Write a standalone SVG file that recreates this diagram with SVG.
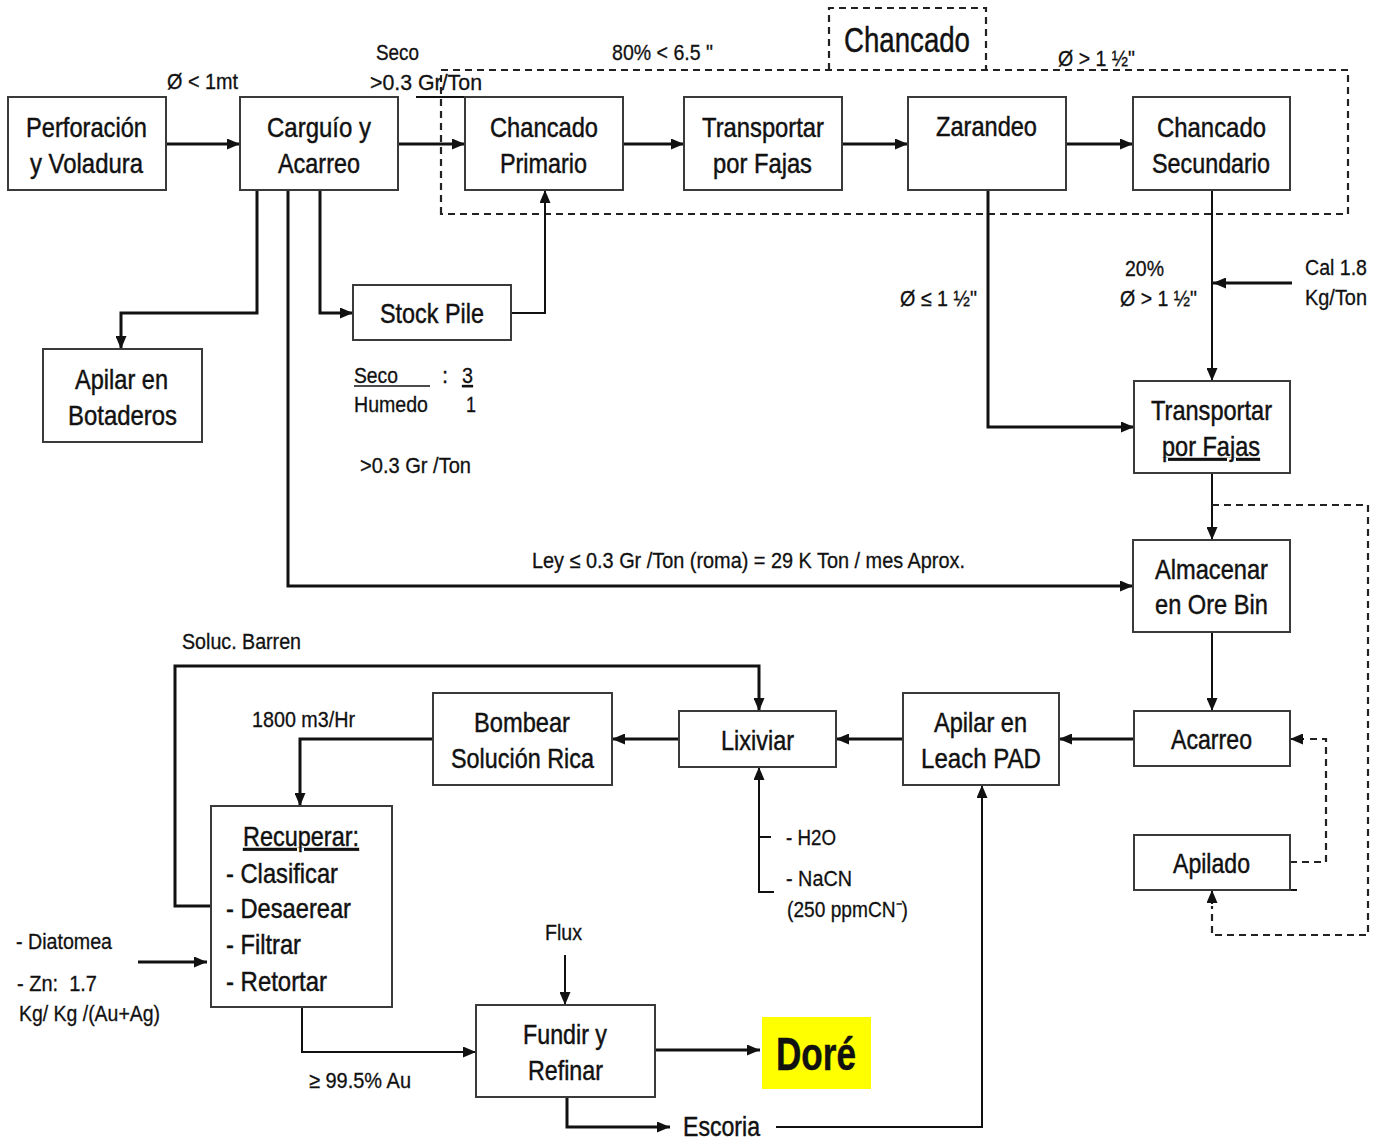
<svg xmlns="http://www.w3.org/2000/svg" width="1383" height="1142" viewBox="0 0 1383 1142">
  <style>
    text { font-family: "Liberation Sans", Arial, sans-serif; fill: #111; stroke: #111; stroke-width: 0.45; }
    .box { fill: #fff; stroke: #3a3a3a; stroke-width: 2; }
    .lbl { font-size: 28px; }
    .sm { font-size: 22px; stroke-width: 0.3; }
    .conn { fill: none; stroke: #111; stroke-width: 3; }
    .thin { fill: none; stroke: #111; stroke-width: 2; }
    .dash { fill: none; stroke: #222; stroke-width: 2.2; stroke-dasharray: 7 5; }
    .u { text-decoration: underline; }
  </style>
  <defs>
    <marker id="arr" markerUnits="userSpaceOnUse" markerWidth="13" markerHeight="11" refX="13" refY="5.5" orient="auto">
      <path d="M0,0 L13,5.5 L0,11 z" fill="#111"/>
    </marker>
  </defs>
  <rect width="1383" height="1142" fill="#fff"/>

  <!-- crushing area frame and its title box -->
  <g id="chancado-area">
    <path class="dash" d="M441,214 L441,70 L1348,70 L1348,214 Z"/>
    <path class="dash" d="M829,70 L829,8 L986,8 L986,70"/>
    <text x="844" y="52" font-size="35" textLength="126" lengthAdjust="spacingAndGlyphs">Chancado</text>
  </g>

  <!-- connectors -->
  <g id="connectors">
    <line class="conn" x1="166" y1="144" x2="240" y2="144" marker-end="url(#arr)"/>
    <line class="conn" x1="398" y1="144" x2="465" y2="144" marker-end="url(#arr)"/>
    <line class="thin" x1="416" y1="97" x2="465" y2="97"/>
    <line class="conn" x1="623" y1="144" x2="684" y2="144" marker-end="url(#arr)"/>
    <line class="conn" x1="842" y1="144" x2="908" y2="144" marker-end="url(#arr)"/>
    <line class="conn" x1="1066" y1="144" x2="1133" y2="144" marker-end="url(#arr)"/>

    <path class="conn" d="M257,190 L257,313 L121,313 L121,349" marker-end="url(#arr)"/>
    <path class="conn" d="M320,190 L320,313 L353,313" marker-end="url(#arr)"/>
    <path class="conn" d="M288,190 L288,586 L1133,586" marker-end="url(#arr)"/>
    <path class="thin" d="M511,313 L545,313 L545,190" marker-end="url(#arr)"/>

    <path class="conn" d="M988,190 L988,427 L1134,427" marker-end="url(#arr)"/>
    <path class="thin" d="M1212,190 L1212,381" marker-end="url(#arr)"/>
    <line class="conn" x1="1292" y1="283" x2="1213" y2="283" marker-end="url(#arr)"/>

    <path class="thin" d="M1212,473 L1212,540" marker-end="url(#arr)"/>
    <path class="dash" d="M1212,505 L1368,505 L1368,935 L1212,935 L1212,906"/>
    <path class="thin" d="M1212,904 L1212,890" marker-end="url(#arr)"/>
    <path class="thin" d="M1212,632 L1212,711" marker-end="url(#arr)"/>
    <path class="dash" d="M1290,862 L1326,862 L1326,739 L1305,739"/>
    <path class="thin" d="M1304,739 L1290,739" marker-end="url(#arr)"/>
    <line class="thin" x1="1290" y1="890" x2="1297" y2="890"/>

    <line class="conn" x1="1134" y1="739" x2="1059" y2="739" marker-end="url(#arr)"/>
    <line class="conn" x1="903" y1="739" x2="836" y2="739" marker-end="url(#arr)"/>
    <line class="conn" x1="679" y1="739" x2="612" y2="739" marker-end="url(#arr)"/>
    <path class="conn" d="M433,739 L300,739 L300,806" marker-end="url(#arr)"/>
    <path class="conn" d="M211,906 L175,906 L175,666 L759,666 L759,711" marker-end="url(#arr)"/>

    <path class="thin" d="M774,892 L759,892 L759,767" marker-end="url(#arr)"/>
    <line class="thin" x1="759" y1="837" x2="771" y2="837"/>

    <line class="conn" x1="138" y1="962" x2="207" y2="962" marker-end="url(#arr)"/>
    <path class="thin" d="M302,1007 L302,1052 L476,1052" marker-end="url(#arr)"/>
    <line class="thin" x1="565" y1="955" x2="565" y2="1005" marker-end="url(#arr)"/>
    <line class="conn" x1="655" y1="1050" x2="760" y2="1050" marker-end="url(#arr)"/>
    <path class="conn" d="M567,1097 L567,1127 L670,1127" marker-end="url(#arr)"/>
    <path class="thin" d="M776,1127 L982,1127 L982,785" marker-end="url(#arr)"/>
  </g>

  <!-- nodes -->
  <g id="perforacion">
    <rect class="box" x="8" y="97" width="158" height="93"/>
    <text class="lbl" x="26" y="137" textLength="121" lengthAdjust="spacingAndGlyphs">Perforación</text>
    <text class="lbl" x="30" y="173" textLength="113" lengthAdjust="spacingAndGlyphs">y Voladura</text>
  </g>
  <g id="carguio">
    <rect class="box" x="240" y="97" width="158" height="93"/>
    <text class="lbl" x="267" y="137" textLength="104" lengthAdjust="spacingAndGlyphs">Carguío y</text>
    <text class="lbl" x="278" y="173" textLength="82" lengthAdjust="spacingAndGlyphs">Acarreo</text>
  </g>
  <g id="chancado-primario">
    <rect class="box" x="465" y="97" width="158" height="93"/>
    <text class="lbl" x="490" y="137" textLength="108" lengthAdjust="spacingAndGlyphs">Chancado</text>
    <text class="lbl" x="500" y="173" textLength="87" lengthAdjust="spacingAndGlyphs">Primario</text>
  </g>
  <g id="transportar-1">
    <rect class="box" x="684" y="97" width="158" height="93"/>
    <text class="lbl" x="702" y="137" textLength="122" lengthAdjust="spacingAndGlyphs">Transportar</text>
    <text class="lbl" x="713" y="173" textLength="99" lengthAdjust="spacingAndGlyphs">por Fajas</text>
  </g>
  <g id="zarandeo">
    <rect class="box" x="908" y="97" width="158" height="93"/>
    <text class="lbl" x="936" y="136" textLength="101" lengthAdjust="spacingAndGlyphs">Zarandeo</text>
  </g>
  <g id="chancado-secundario">
    <rect class="box" x="1133" y="97" width="157" height="93"/>
    <text class="lbl" x="1157" y="137" textLength="109" lengthAdjust="spacingAndGlyphs">Chancado</text>
    <text class="lbl" x="1152" y="173" textLength="118" lengthAdjust="spacingAndGlyphs">Secundario</text>
  </g>
  <g id="stock-pile">
    <rect class="box" x="353" y="285" width="158" height="55"/>
    <text class="lbl" x="380" y="323" textLength="104" lengthAdjust="spacingAndGlyphs">Stock Pile</text>
  </g>
  <g id="botaderos">
    <rect class="box" x="43" y="349" width="159" height="93"/>
    <text class="lbl" x="75" y="389" textLength="93" lengthAdjust="spacingAndGlyphs">Apilar en</text>
    <text class="lbl" x="68" y="425" textLength="109" lengthAdjust="spacingAndGlyphs">Botaderos</text>
  </g>
  <g id="transportar-2">
    <rect class="box" x="1134" y="381" width="156" height="92"/>
    <text class="lbl" x="1151" y="420" textLength="121" lengthAdjust="spacingAndGlyphs">Transportar</text>
    <text class="lbl u" x="1162" y="456" textLength="98" lengthAdjust="spacingAndGlyphs">por Fajas</text>
  </g>
  <g id="ore-bin">
    <rect class="box" x="1133" y="540" width="157" height="92"/>
    <text class="lbl" x="1155" y="579" textLength="113" lengthAdjust="spacingAndGlyphs">Almacenar</text>
    <text class="lbl" x="1155" y="614" textLength="113" lengthAdjust="spacingAndGlyphs">en Ore Bin</text>
  </g>
  <g id="acarreo">
    <rect class="box" x="1134" y="711" width="156" height="55"/>
    <text class="lbl" x="1171" y="749" textLength="81" lengthAdjust="spacingAndGlyphs">Acarreo</text>
  </g>
  <g id="apilado">
    <rect class="box" x="1134" y="835" width="156" height="55"/>
    <text class="lbl" x="1173" y="873" textLength="77" lengthAdjust="spacingAndGlyphs">Apilado</text>
  </g>
  <g id="leach-pad">
    <rect class="box" x="903" y="693" width="156" height="92"/>
    <text class="lbl" x="934" y="732" textLength="93" lengthAdjust="spacingAndGlyphs">Apilar en</text>
    <text class="lbl" x="921" y="768" textLength="120" lengthAdjust="spacingAndGlyphs">Leach PAD</text>
  </g>
  <g id="lixiviar">
    <rect class="box" x="679" y="711" width="157" height="56"/>
    <text class="lbl" x="721" y="750" textLength="73" lengthAdjust="spacingAndGlyphs">Lixiviar</text>
  </g>
  <g id="bombear">
    <rect class="box" x="433" y="693" width="179" height="92"/>
    <text class="lbl" x="474" y="732" textLength="96" lengthAdjust="spacingAndGlyphs">Bombear</text>
    <text class="lbl" x="451" y="768" textLength="143" lengthAdjust="spacingAndGlyphs">Solución Rica</text>
  </g>
  <g id="recuperar">
    <rect class="box" x="211" y="806" width="181" height="201"/>
    <text class="lbl u" x="243" y="846" textLength="116" lengthAdjust="spacingAndGlyphs">Recuperar:</text>
    <text class="lbl" x="226" y="883" textLength="112" lengthAdjust="spacingAndGlyphs">- Clasificar</text>
    <text class="lbl" x="226" y="918" textLength="125" lengthAdjust="spacingAndGlyphs">- Desaerear</text>
    <text class="lbl" x="226" y="954" textLength="75" lengthAdjust="spacingAndGlyphs">- Filtrar</text>
    <text class="lbl" x="226" y="991" textLength="101" lengthAdjust="spacingAndGlyphs">- Retortar</text>
  </g>
  <g id="fundir">
    <rect class="box" x="476" y="1005" width="179" height="92"/>
    <text class="lbl" x="523" y="1044" textLength="84" lengthAdjust="spacingAndGlyphs">Fundir y</text>
    <text class="lbl" x="528" y="1080" textLength="75" lengthAdjust="spacingAndGlyphs">Refinar</text>
  </g>
  <g id="dore">
    <rect x="762" y="1017" width="109" height="72" fill="#ffff00"/>
    <text x="776" y="1070" font-size="46" font-weight="bold" textLength="80" lengthAdjust="spacingAndGlyphs">Doré</text>
  </g>

  <!-- flow annotations -->
  <g id="annotations">
    <text class="sm" x="167" y="89" textLength="71" lengthAdjust="spacingAndGlyphs">Ø &lt; 1mt</text>
    <text class="sm" x="376" y="60" textLength="43" lengthAdjust="spacingAndGlyphs">Seco</text>
    <text class="sm" x="370" y="90" textLength="112" lengthAdjust="spacingAndGlyphs">&gt;0.3 Gr/Ton</text>
    <text class="sm" x="612" y="60" textLength="101" lengthAdjust="spacingAndGlyphs">80% &lt; 6.5 "</text>
    <text class="sm" x="1058" y="66" textLength="77" lengthAdjust="spacingAndGlyphs">Ø &gt; 1 ½"</text>
    <text class="sm" x="1125" y="276" textLength="39" lengthAdjust="spacingAndGlyphs">20%</text>
    <text class="sm" x="1120" y="306" textLength="77" lengthAdjust="spacingAndGlyphs">Ø &gt; 1 ½"</text>
    <text class="sm" x="900" y="306" textLength="77" lengthAdjust="spacingAndGlyphs">Ø ≤ 1 ½"</text>
    <text class="sm" x="1305" y="275" textLength="62" lengthAdjust="spacingAndGlyphs">Cal 1.8</text>
    <text class="sm" x="1305" y="305" textLength="62" lengthAdjust="spacingAndGlyphs">Kg/Ton</text>
    <text class="sm" x="354" y="383" textLength="44" lengthAdjust="spacingAndGlyphs">Seco</text>
    <line x1="354" y1="386" x2="430" y2="386" stroke="#111" stroke-width="1.5"/>
    <text class="sm" x="442" y="383">:</text>
    <text class="sm u" x="462" y="383" textLength="11" lengthAdjust="spacingAndGlyphs">3</text>
    <text class="sm" x="354" y="412" textLength="74" lengthAdjust="spacingAndGlyphs">Humedo</text>
    <text class="sm" x="466" y="412" textLength="10" lengthAdjust="spacingAndGlyphs">1</text>
    <text class="sm" x="360" y="473" textLength="111" lengthAdjust="spacingAndGlyphs">&gt;0.3 Gr /Ton</text>
    <text class="sm" x="532" y="568" textLength="433" lengthAdjust="spacingAndGlyphs">Ley ≤ 0.3 Gr /Ton (roma) = 29 K Ton / mes Aprox.</text>
    <text class="sm" x="182" y="649" textLength="119" lengthAdjust="spacingAndGlyphs">Soluc. Barren</text>
    <text class="sm" x="252" y="727" textLength="103" lengthAdjust="spacingAndGlyphs">1800 m3/Hr</text>
    <text class="sm" x="786" y="845" textLength="50" lengthAdjust="spacingAndGlyphs">- H2O</text>
    <text class="sm" x="786" y="886" textLength="66" lengthAdjust="spacingAndGlyphs">- NaCN</text>
    <text class="sm" x="787" y="917" textLength="121" lengthAdjust="spacingAndGlyphs">(250 ppmCN⁻)</text>
    <text class="sm" x="16" y="949" textLength="96" lengthAdjust="spacingAndGlyphs">- Diatomea</text>
    <text class="sm" x="17" y="991" textLength="80" lengthAdjust="spacingAndGlyphs" xml:space="preserve">- Zn:  1.7</text>
    <text class="sm" x="19" y="1021" textLength="141" lengthAdjust="spacingAndGlyphs">Kg/ Kg /(Au+Ag)</text>
    <text class="sm" x="545" y="940" textLength="37" lengthAdjust="spacingAndGlyphs">Flux</text>
    <text class="sm" x="309" y="1088" textLength="102" lengthAdjust="spacingAndGlyphs">≥ 99.5% Au</text>
    <text x="683" y="1136" font-size="27" textLength="77" lengthAdjust="spacingAndGlyphs">Escoria</text>
  </g>
</svg>
